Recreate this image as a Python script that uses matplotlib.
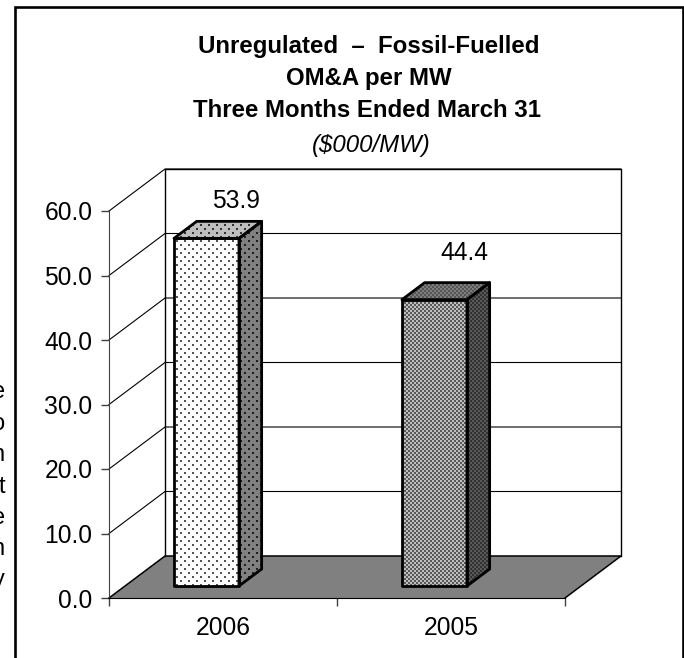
import numpy as np
import matplotlib
matplotlib.use('Agg')
import matplotlib.pyplot as plt
from matplotlib.patches import Polygon, Rectangle

plt.rcParams['font.family'] = ['Liberation Sans', 'DejaVu Sans']

# chart values
categories = ['2006', '2005']
values = [53.9, 44.4]
y_ticks = [0, 10, 20, 30, 40, 50, 60]
title_lines = ['Unregulated  \u2013  Fossil-Fuelled', 'OM&A per MW', 'Three Months Ended March 31']
subtitle = '($000/MW)'
cut_letters = ['e', 'o', 'n', 't', 'e', 'n', 'y']

W, H = 684, 658
fig = plt.figure(figsize=(W / 100, H / 100), dpi=100)

# front plane of the 3d box
left, right, top, bottom = 109, 565, 211, 598
ax = fig.add_axes([left / W, 1 - bottom / H, (right - left) / W, (bottom - top) / H])
ax.set_xlim(0, 2)
ax.set_ylim(0, 60)
ax.patch.set_visible(False)

# depth of the chart box in data units
depth_x = 56 / 228
depth_y = 42 / (387 / 60)


def proj(x, y, d=0.0):
    return (x + d * depth_x, y + d * depth_y)


# page sized fill patterns, one image pixel per output pixel
yy, xx = np.mgrid[0:H, 0:W]


def dots(bg, fg):
    img = np.full((H, W), bg, dtype=float)
    mask = ((xx % 8 < 2) & (yy % 8 < 2)) | (((xx + 4) % 8 < 2) & ((yy + 4) % 8 < 2))
    img[mask] = fg
    return img


def checker(dark, light):
    img = np.full((H, W), dark, dtype=float)
    img[(xx // 2 + yy // 2) % 2 == 0] = light
    return img


def face(points, pattern, z=3):
    im = ax.imshow(pattern, extent=(0, 1, 0, 1), transform=fig.transFigure, cmap='gray',
                   vmin=0, vmax=255, interpolation='nearest', aspect='auto', zorder=z)
    im.set_clip_box(fig.bbox)
    im.set_clip_path(Polygon(points, closed=True, transform=ax.transData))
    ax.add_patch(Polygon(points, closed=True, fill=False, edgecolor='black', linewidth=2.0,
                         joinstyle='round', clip_on=False, zorder=z + 0.5))


# floor
ax.add_patch(Polygon([proj(0, 0), proj(2, 0), proj(2, 0, 1), proj(0, 0, 1)], closed=True,
                     facecolor='#808080', edgecolor='none', clip_on=False, zorder=1))
ax.plot(*zip(proj(0, 0), proj(0, 0, 1), proj(2, 0, 1), proj(2, 0)), color='black', lw=1.1,
        clip_on=False, zorder=2)

# walls and gridlines
for t in y_ticks[1:]:
    ax.plot(*zip(proj(0, t), proj(0, t, 1), proj(2, t, 1)), color='black', lw=0.8,
            clip_on=False, zorder=1.5)
ax.plot(*zip(proj(0, 0, 1), proj(0, 60, 1), proj(2, 60, 1), proj(2, 0, 1)), color='black', lw=1,
        clip_on=False, zorder=1.5)

# bars
bar_w = 0.285
bar_off = 0.215
d0, d1 = 0.285, 0.69
styles = [
    {'front': dots(255, 85), 'top': dots(190, 50), 'side': dots(128, 30)},
    {'front': checker(90, 190), 'top': checker(85, 125), 'side': checker(50, 90)},
]
label_lift = [7.6, 9.1]
for i, v in enumerate(values):
    x0 = i + bar_off
    x1 = x0 + bar_w
    s = styles[i]
    face([proj(x1, 0, d0), proj(x1, 0, d1), proj(x1, v, d1), proj(x1, v, d0)], s['side'])
    face([proj(x0, v, d0), proj(x1, v, d0), proj(x1, v, d1), proj(x0, v, d1)], s['top'])
    face([proj(x0, 0, d0), proj(x1, 0, d0), proj(x1, v, d0), proj(x0, v, d0)], s['front'])
    ax.text(i + 0.558, v + label_lift[i], f'{v:.1f}', ha='center', va='center',
            fontsize=17.7, zorder=6)

# axes
for sp in ['top', 'right']:
    ax.spines[sp].set_visible(False)
ax.spines['left'].set_color('#404040')
ax.spines['bottom'].set_color('black')
ax.spines['left'].set_zorder(2.5)
ax.spines['bottom'].set_zorder(2.5)
ax.set_yticks(y_ticks)
ax.set_yticklabels([f'{t:.1f}' for t in y_ticks], fontsize=17.7)
ax.set_xticks([0, 1, 2])
ax.set_xticklabels([])
ax.set_xticks([0.5, 1.5], minor=True)
ax.set_xticklabels(categories, minor=True, fontsize=17.7)
ax.tick_params(axis='x', which='minor', length=0, pad=13)
ax.tick_params(axis='x', which='major', length=5.5, color='#404040', width=1)
ax.tick_params(axis='y', length=5.5, color='#404040', width=1, pad=6.5)

# border around the chart, runs off the bottom of the page
fig.add_artist(Rectangle((15.3 / W, -0.02), (682.6 - 15.3) / W, 1.02 - 7 / H, transform=fig.transFigure,
                         fill=False, edgecolor='black', linewidth=1.9))

# title block
for line, x, y in zip(title_lines, [369, 369, 367.5], [52.7, 85, 117]):
    fig.text(x / W, 1 - y / H, line, ha='center', va='baseline', fontsize=17.3, fontweight='bold')
fig.text(371 / W, 1 - 152 / H, subtitle, ha='center', va='baseline', fontsize=17.3, style='italic')

# letters of the neighbouring page text cut off by the crop
for ch, y in zip(cut_letters, [398, 430, 461, 493, 524, 555, 586]):
    fig.text(5 / W, 1 - y / H, ch, ha='right', va='baseline', fontsize=17)

fig.savefig('out.png', dpi=100)
